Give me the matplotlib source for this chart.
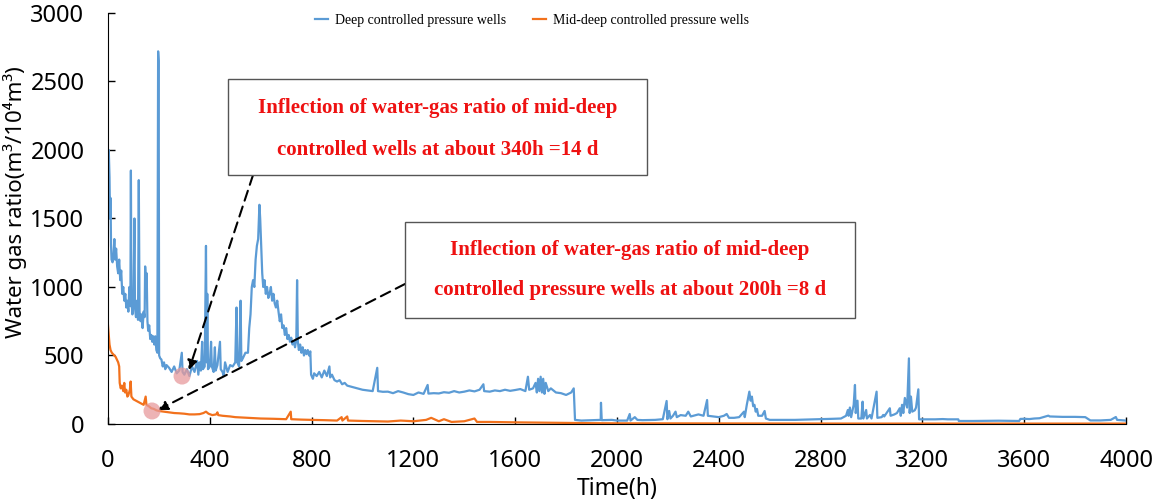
import numpy as np
import matplotlib.pyplot as plt
from matplotlib.patches import Rectangle

# deep controlled pressure wells (time h, water gas ratio)
deep_t = [0, 3, 6, 8, 10, 12, 14, 18, 22, 25, 28, 32, 36, 40, 44, 48, 52, 56, 60, 64,
          68, 72, 76, 80, 84, 88, 90, 92, 96, 100, 104, 106, 110, 114, 118, 121, 124, 128, 132, 136,
          140, 144, 146, 150, 152, 155, 158, 162, 166, 170, 174, 178, 182, 186, 190, 194, 197, 199, 201, 205,
          210, 215, 220, 225, 230, 240, 250, 260, 270, 280, 290, 293, 300, 310, 320, 330, 340, 350, 355, 360,
          365, 370, 373, 380, 385, 388, 390, 393, 400, 405, 408, 415, 420, 423, 430, 440, 443, 450, 455, 460,
          470, 480, 490, 500, 505, 508, 515, 521, 524, 530, 540, 550, 555, 560, 565, 570, 575, 580, 585, 590,
          595, 598, 602, 606, 610, 615, 620, 625, 630, 635, 640, 645, 650, 655, 660, 665, 670, 675, 680, 685,
          690, 695, 700, 705, 710, 715, 720, 725, 730, 735, 740, 743, 746, 750, 755, 760, 765, 770, 775, 780,
          785, 790, 795, 798, 805, 810, 820, 830, 840, 850, 860, 870, 873, 880, 890, 900, 910, 920, 930, 940,
          960, 980, 1000, 1020, 1040, 1058, 1061, 1080, 1100, 1120, 1140, 1160, 1180, 1200, 1220, 1240, 1256, 1259, 1280, 1300,
          1320, 1340, 1360, 1380, 1400, 1420, 1440, 1460, 1475, 1478, 1500, 1520, 1540, 1560, 1580, 1600, 1620, 1640, 1650, 1655,
          1670, 1680, 1685, 1690, 1695, 1700, 1705, 1710, 1715, 1720, 1730, 1740, 1760, 1780, 1800, 1820, 1830, 1835, 1860, 1900,
          1936, 1937, 1940, 1980, 2000, 2040, 2050, 2053, 2070, 2080, 2100, 2150, 2180, 2195, 2198, 2205, 2210, 2220, 2230, 2235,
          2250, 2270, 2280, 2290, 2300, 2320, 2340, 2354, 2357, 2380, 2400, 2420, 2431, 2440, 2460, 2480, 2499, 2502, 2510, 2515,
          2520, 2525, 2530, 2535, 2540, 2545, 2550, 2555, 2570, 2580, 2585, 2600, 2700, 2800, 2850, 2880, 2900, 2907, 2910, 2915,
          2920, 2930, 2935, 2938, 2945, 2948, 2960, 2965, 2968, 2979, 2982, 2994, 3000, 3020, 3023, 3040, 3046, 3050, 3072, 3075,
          3090, 3100, 3111, 3115, 3120, 3125, 3131, 3140, 3147, 3150, 3155, 3160, 3170, 3175, 3184, 3187, 3200, 3250, 3280, 3300,
          3341, 3343, 3400, 3500, 3580, 3585, 3600, 3620, 3640, 3660, 3695, 3700, 3750, 3800, 3840, 3860, 3900, 3940, 3960, 3965,
          4000]
deep_v = [1700, 2000, 1800, 1500, 1650, 1300, 1200, 1180, 1250, 1350, 1200, 1280, 1150, 1100, 1200, 1050, 1120, 950, 1000, 900,
          950, 850, 900, 820, 1000, 860, 1850, 900, 800, 880, 1500, 850, 780, 900, 760, 1780, 820, 750, 800, 700,
          820, 780, 1150, 1000, 1100, 750, 680, 720, 620, 650, 600, 640, 580, 640, 540, 520, 2720, 2650, 500, 480,
          470, 420, 450, 400, 430, 410, 380, 420, 370, 390, 520, 380, 360, 400, 350, 420, 380, 460, 360, 450,
          390, 600, 400, 420, 1300, 450, 950, 400, 420, 600, 420, 380, 560, 390, 430, 600, 400, 380, 350, 450,
          380, 430, 420, 450, 850, 450, 420, 900, 460, 480, 520, 520, 700, 800, 1000, 1050, 1000, 1200, 1300, 1350,
          1600, 1500, 1300, 1100, 1000, 1050, 950, 1000, 920, 950, 1000, 900, 950, 880, 850, 900, 820, 750, 800, 700,
          720, 650, 700, 620, 650, 600, 630, 580, 600, 560, 620, 1050, 600, 540, 580, 520, 560, 500, 540, 510,
          540, 500, 530, 360, 330, 370, 350, 380, 340, 390, 350, 420, 340, 360, 320, 310, 320, 290, 300, 280,
          270, 260, 250, 245, 240, 410, 240, 235, 236, 225, 240, 230, 218, 212, 230, 220, 285, 222, 225, 223,
          232, 228, 240, 230, 236, 245, 238, 250, 290, 240, 236, 245, 240, 250, 242, 248, 255, 240, 345, 250,
          260, 300, 230, 330, 240, 345, 230, 330, 220, 300, 240, 260, 230, 225, 212, 230, 260, 30, 25, 28,
          30, 155, 28, 30, 25, 25, 73, 25, 50, 30, 28, 30, 35, 168, 35, 95, 40, 60, 90, 50,
          65, 60, 90, 55, 60, 70, 60, 175, 60, 55, 50, 60, 73, 45, 45, 50, 90, 50, 140, 190,
          236, 170, 200, 130, 140, 90, 110, 60, 60, 95, 40, 30, 30, 35, 38, 40, 60, 102, 60, 120,
          50, 140, 285, 80, 170, 40, 40, 163, 40, 102, 40, 66, 40, 236, 45, 50, 66, 55, 115, 60,
          70, 80, 115, 60, 140, 80, 190, 120, 479, 80, 200, 90, 100, 120, 253, 34, 34, 34, 36, 34,
          34, 22, 22, 24, 22, 37, 38, 36, 40, 42, 61, 55, 52, 52, 50, 26, 26, 30, 51, 30,
          25]

# mid-deep controlled pressure wells
mid_t = [0, 3, 6, 10, 15, 20, 25, 30, 35, 40, 44, 46, 50, 55, 60, 64, 67, 72, 76, 80,
         86, 89, 92, 100, 110, 120, 130, 140, 148, 151, 160, 170, 180, 190, 200, 220, 240, 260, 280, 300,
         320, 340, 360, 375, 385, 395, 410, 425, 430, 433, 450, 480, 500, 550, 600, 650, 700, 718, 720, 760,
         800, 850, 900, 918, 921, 940, 943, 1000, 1050, 1100, 1150, 1200, 1250, 1270, 1300, 1320, 1350, 1400, 1440, 1450,
         1500, 1600, 1700, 1800, 1900, 2000, 2500, 3000, 4000]
mid_v = [720, 650, 580, 540, 520, 510, 500, 490, 470, 450, 420, 300, 260, 280, 240, 300, 230, 250, 200, 210,
         250, 310, 200, 180, 170, 160, 150, 140, 200, 140, 130, 115, 110, 100, 95, 90, 85, 80, 78, 75,
         70, 70, 72, 80, 90, 75, 65, 70, 85, 65, 60, 55, 50, 45, 40, 38, 35, 90, 35, 32,
         30, 28, 25, 50, 25, 55, 25, 22, 20, 18, 25, 20, 30, 45, 20, 35, 15, 20, 40, 15,
         15, 12, 10, 8, 6, 5, 4, 3, 3]

x_ticks = [0, 400, 800, 1200, 1600, 2000, 2400, 2800, 3200, 3600, 4000]
y_ticks = [0, 500, 1000, 1500, 2000, 2500, 3000]

sans = ["Noto Sans", "DejaVu Sans"]

fig = plt.figure(figsize=(11.55, 5.01), dpi=100)
ax = fig.add_axes([0.0935, 0.1537, 0.8814, 0.8204])

ax.plot(deep_t, deep_v, color="#5B9BD5", lw=1.6, label="Deep controlled pressure wells")
ax.plot(mid_t, mid_v, color="#F2711C", lw=1.6, label="Mid-deep controlled pressure wells")

# inflection markers
ax.scatter([291, 173], [350, 95], s=150, color="#E79A9C", alpha=0.75, zorder=4, edgecolors="none")

# annotation boxes
ax.add_patch(Rectangle((471, 1818), 1647, 700, facecolor="white", edgecolor="#555555", lw=1, zorder=5))
ax.add_patch(Rectangle((1167, 774), 1768, 700, facecolor="white", edgecolor="#555555", lw=1, zorder=5))

red_font = dict(family="Liberation Serif", weight="bold", color="#EE1111", fontsize=15, ha="center", va="center", zorder=6)
ax.text(1296, 2310, "Inflection of water-gas ratio of mid-deep", **red_font)
ax.text(1296, 2000, "controlled wells at about 340h =14 d", **red_font)
ax.text(2051, 1268, "Inflection of water-gas ratio of mid-deep", **red_font)
ax.text(2051, 975, "controlled pressure wells at about 200h =8 d", **red_font)

arrow = dict(arrowstyle="-|>", linestyle=(0, (5, 3)), color="black", lw=1.5, mutation_scale=14, shrinkA=0, shrinkB=0)
ax.annotate("", xy=(318, 394), xytext=(570, 1818), arrowprops=arrow, zorder=3)
ax.annotate("", xy=(196, 102), xytext=(1167, 1022), arrowprops=arrow, zorder=3)

ax.set_xlim(0, 4000)
ax.set_ylim(0, 3000)
ax.set_xticks(x_ticks)
ax.set_yticks(y_ticks)
ax.spines["top"].set_visible(False)
ax.spines["right"].set_visible(False)
ax.tick_params(direction="in", length=5, width=1, labelsize=17)
ax.tick_params(axis="y", pad=17)
ax.tick_params(axis="x", pad=18)
for lab in ax.get_xticklabels() + ax.get_yticklabels():
    lab.set_family(sans)

ax.set_xlabel("Time(h)", fontsize=16.5, family=sans, labelpad=3)
ax.set_ylabel("Water gas ratio(m³/10⁴m³)", fontsize=16, family=sans)
ax.yaxis.set_label_coords(-0.08, 0.54)

ax.legend(loc="center", bbox_to_anchor=(532 / 1155, 0.96), bbox_transform=fig.transFigure,
          ncol=2, frameon=False, handlelength=0.9, columnspacing=2.0, handletextpad=0.5,
          prop={"family": "Liberation Serif", "size": 10})

plt.savefig("out.png", dpi=100)
